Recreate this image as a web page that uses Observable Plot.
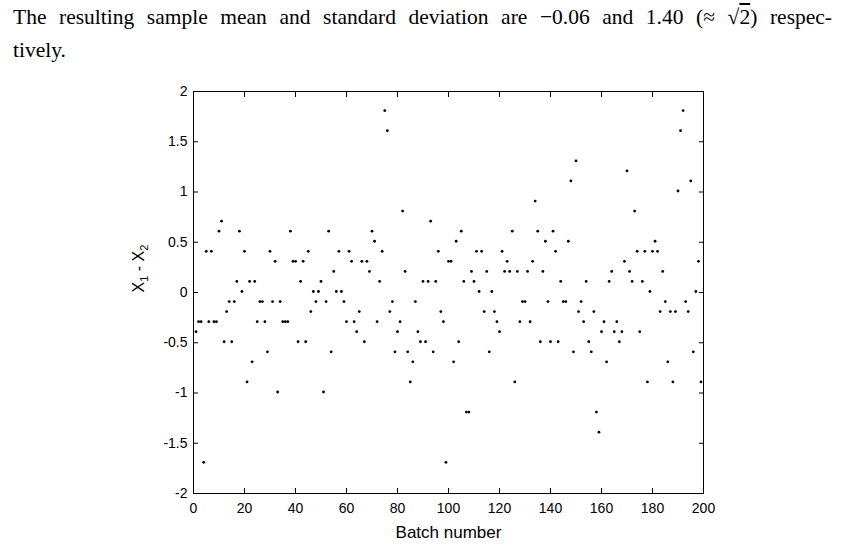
<!DOCTYPE html>
<html>
<head>
<meta charset="utf-8">
<script src="https://cdn.jsdelivr.net/npm/d3@7"></script>
<script src="https://cdn.jsdelivr.net/npm/@observablehq/plot@0.6"></script>
<style>
  html, body { margin: 0; padding: 0; background: #fff; }
  body { width: 845px; height: 546px; overflow: hidden; }
  #txt { position: relative; height: 75px; font-family: "Liberation Serif", "DejaVu Serif", serif; font-size: 21.5px; color: #000; }
  #l1 { position: absolute; left: 13px; width: 819px; top: 5px; text-align: justify; text-align-last: justify; line-height: 24px; white-space: nowrap; }
  #l2 { position: absolute; left: 13px; top: 38px; line-height: 24px; }
  .ov { text-decoration: overline; }
  #chart svg { display: block; }
</style>
</head>
<body>
<div id="txt">
  <div id="l1">The resulting sample mean and standard deviation are −0.06 and 1.40 (≈ √<span class="ov">2</span>) respec-</div>
  <div id="l2">tively.</div>
</div>
<div id="chart"></div>
<script>
// X1 - X2 for batches 1..199
const values = [
  -0.39, -0.29, -0.29, -1.69, 0.41, -0.29, 0.41, -0.29, -0.29, 0.61,
  0.71, -0.49, -0.19, -0.09, -0.49, -0.09, 0.11, 0.61, 0.01, 0.41,
  -0.89, 0.11, -0.69, 0.11, -0.29, -0.09, -0.09, -0.29, -0.59, 0.41,
  -0.09, 0.31, -0.99, -0.09, -0.29, -0.29, -0.29, 0.61, 0.31, 0.31,
  -0.49, 0.11, 0.31, -0.49, 0.41, -0.19, 0.01, -0.09, 0.01, 0.11,
  -0.99, -0.09, 0.61, -0.59, 0.21, 0.01, 0.41, 0.01, -0.09, -0.29,
  0.41, 0.31, -0.29, -0.39, -0.19, 0.31, -0.49, 0.31, 0.21, 0.61,
  0.51, -0.29, 0.11, 0.41, 1.81, 1.61, -0.19, -0.09, -0.59, -0.39,
  -0.29, 0.81, 0.21, -0.59, -0.89, -0.69, -0.09, -0.39, -0.49, 0.11,
  -0.49, 0.11, 0.71, -0.59, 0.11, 0.41, -0.19, -0.29, -1.69, 0.31,
  0.31, -0.69, 0.51, -0.49, 0.61, 0.11, -1.19, -1.19, 0.21, 0.11,
  0.41, 0.01, 0.41, -0.19, 0.21, -0.59, 0.01, -0.19, -0.29, -0.39,
  0.41, 0.21, 0.31, 0.21, 0.61, -0.89, 0.21, -0.29, -0.09, -0.09,
  0.21, -0.29, 0.31, 0.91, 0.61, -0.49, 0.21, 0.51, -0.09, -0.49,
  0.61, 0.41, -0.49, 0.11, -0.09, -0.09, 0.51, 1.11, -0.59, 1.31,
  -0.19, -0.09, -0.29, 0.11, -0.49, -0.59, -0.19, -1.19, -1.39, -0.39,
  -0.29, -0.69, 0.11, 0.21, -0.39, -0.29, -0.49, -0.39, 0.31, 1.21,
  0.21, 0.11, 0.81, 0.41, -0.39, 0.11, 0.41, -0.89, 0.01, 0.41,
  0.51, 0.41, -0.19, 0.21, -0.09, -0.69, -0.19, -0.89, -0.19, 1.01,
  1.61, 1.81, -0.09, -0.19, 1.11, -0.59, 0.01, 0.31, -0.89
];
const batch = values.map((_, i) => i + 1);
const xTicks = [0, 20, 40, 60, 80, 100, 120, 140, 160, 180, 200];
const yTicks = [-2, -1.5, -1, -0.5, 0, 0.5, 1, 1.5, 2];
const xLabel = "Batch number";
const yLabel = "X1 - X2";

const data = values.map((v, i) => ({batch: batch[i], diff: v}));

const fig = Plot.plot({
  width: 845,
  height: 471,
  marginLeft: 193,
  marginRight: 142,
  marginTop: 16,
  marginBottom: 53,
  x: {domain: [0, 200]},
  y: {domain: [-2, 2]},
  style: {fontFamily: "'Liberation Sans', Arial, sans-serif", fontSize: "14px", color: "#000", background: "#fff", overflow: "visible"},
  marks: [
    Plot.axisX(xTicks, {anchor: "bottom", tickSize: -5, tickPadding: 15, tickFormat: d => String(d), label: null, stroke: "#000"}),
    Plot.axisX(xTicks, {anchor: "top", tickSize: -5, tickFormat: () => "", label: null, stroke: "#000"}),
    Plot.axisY(yTicks, {anchor: "left", tickSize: -5, tickPadding: 11, tickFormat: d => String(d), label: null, stroke: "#000"}),
    Plot.axisY(yTicks, {anchor: "right", tickSize: -5, tickFormat: () => "", label: null, stroke: "#000"}),
    Plot.frame({stroke: "#000", strokeWidth: 1}),
    Plot.dot(data, {x: "batch", y: "diff", r: 1.4, fill: "#000", stroke: null}),
    Plot.text([xLabel], {text: d => d, frameAnchor: "bottom", dy: 44, fontSize: 17, fill: "#000"}),
    Plot.text([yLabel], {text: d => d, frameAnchor: "left", dx: -55, rotate: -90, fontSize: 16, fill: "#000"})
  ]
});
document.getElementById("chart").appendChild(fig);

// subscripts for the y label
d3.select(fig).selectAll("text").filter(function() { return this.textContent === yLabel; }).each(function() {
  const t = d3.select(this);
  t.text("");
  t.append("tspan").text("X");
  t.append("tspan").attr("dy", 4).attr("font-size", 11).text("1");
  t.append("tspan").attr("dy", -4).text(" - X");
  t.append("tspan").attr("dy", 4).attr("font-size", 11).text("2");
});
</script>
</body>
</html>
